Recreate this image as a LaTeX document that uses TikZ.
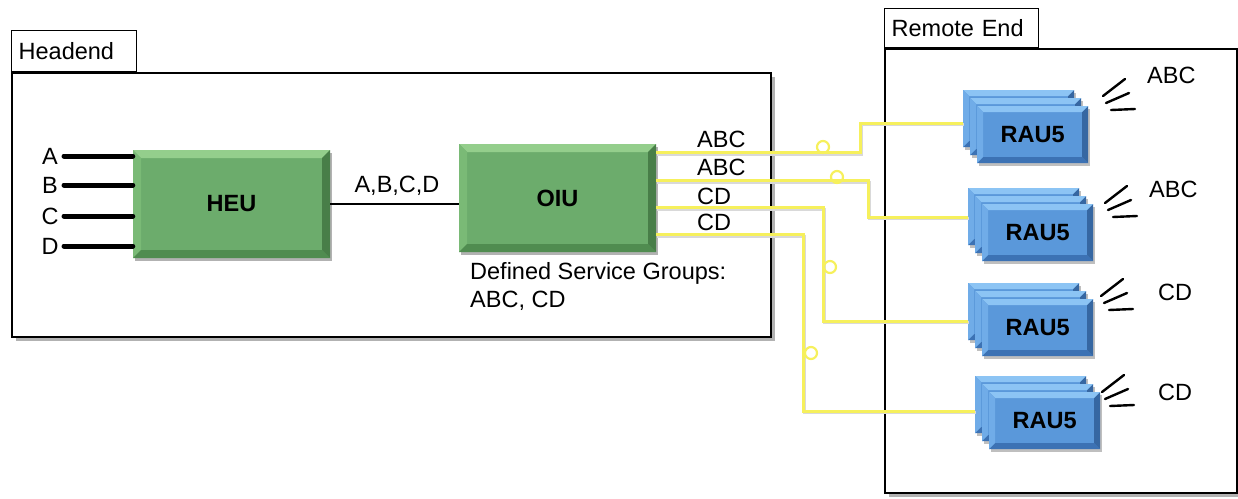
\documentclass[tikz,border=0pt]{standalone}
\usepackage{fontspec}
\setmainfont{Liberation Sans}
\usetikzlibrary{shadows,calc}

\definecolor{grnbase}{RGB}{108,172,108}
\definecolor{grnlight}{RGB}{148,206,140}
\definecolor{grnside}{RGB}{122,186,118}
\definecolor{grndark}{RGB}{80,140,80}
\definecolor{blubase}{RGB}{90,152,218}
\definecolor{blulight}{RGB}{140,196,244}
\definecolor{bluside}{RGB}{112,172,232}
\definecolor{bludark}{RGB}{60,114,180}
\definecolor{fiber}{RGB}{246,240,92}

\newcommand\bodysize{\fontsize{23.5}{28}\selectfont}

\tikzset{
  % bevelled block: #1 face, #2 top edge, #3 left edge, #4 bottom/right edges, #5 bevel size
  bevel/.style n args={5}{fill=#1, path picture={
    \fill[#2] (path picture bounding box.north west) -- (path picture bounding box.north east)
      -- ([shift={(-#5,-#5)}]path picture bounding box.north east)
      -- ([shift={(#5,-#5)}]path picture bounding box.north west) -- cycle;
    \fill[#3] (path picture bounding box.north west) -- ([shift={(#5,-#5)}]path picture bounding box.north west)
      -- ([shift={(#5,#5)}]path picture bounding box.south west) -- (path picture bounding box.south west) -- cycle;
    \fill[#4] (path picture bounding box.south west) -- (path picture bounding box.south east)
      -- ([shift={(-#5,#5)}]path picture bounding box.south east)
      -- ([shift={(#5,#5)}]path picture bounding box.south west) -- cycle;
    \fill[#4!90!black] (path picture bounding box.north east) -- (path picture bounding box.south east)
      -- ([shift={(-#5,#5)}]path picture bounding box.south east)
      -- ([shift={(-#5,-#5)}]path picture bounding box.north east) -- cycle;
  }},
  unit/.style={bevel={grnbase}{grnlight}{grnside}{grndark}{8pt}, minimum width=197pt, minimum height=108pt,
    inner sep=0pt, font=\bodysize\bfseries, drop shadow={shadow xshift=2pt, shadow yshift=-3pt, opacity=0.3, fill=black}},
  card/.style={bevel={blubase}{blulight}{bluside}{bludark}{6pt}, minimum width=111pt, minimum height=57pt,
    inner sep=0pt, anchor=north west, font=\bodysize\bfseries, drop shadow={shadow xshift=2pt, shadow yshift=-3pt, opacity=0.25, fill=black}},
  area/.style={draw, fill=white, line width=2pt, anchor=north west, inner sep=0pt,
    drop shadow={shadow xshift=4pt, shadow yshift=-4pt, opacity=0.3, fill=black}},
  tab/.style={draw, line width=1.4pt, fill=white, anchor=south west, inner xsep=7pt, align=left},
  lbl/.style={inner sep=0pt},
  inbus/.style={line width=5pt, line cap=round},
  fiberline/.style={draw=fiber, line width=3pt,
    preaction={draw=black!15, line width=3pt, transform canvas={xshift=1.2pt, yshift=-1.5pt}}},
  loop/.style={draw=fiber, line width=2.2pt},
  wave/.style={line width=2.4pt, line cap=round},
  pics/waves/.style={code={
    \draw[wave] (0,0) -- (22,-17);
    \draw[wave] (3,7) -- (26,-3);
    \draw[wave] (8,14) -- (32,13);
  }},
}

\begin{document}
\begin{tikzpicture}[x=1pt, y=-1pt, font=\bodysize]
\useasboundingbox (0,0) rectangle (1238,498);

% enclosures
\node[area, minimum width=759pt, minimum height=264pt] (headend) at (11,72) {};
\node[tab, text width=111pt, minimum height=41pt] (headtab) at (11,72) {Headend};
\node[area, minimum width=352pt, minimum height=444pt] (remote) at (884,48) {};
\node[tab, text width=140pt, minimum height=39pt] (remtab) at (884,48) {Remote End};

% head-end units
\node[unit] (heu) at (231.5,204) {HEU};
\node[unit] (oiu) at (557.5,198) {OIU};

% service inputs
\foreach \s/\y in {A/156,B/185,C/216,D/246}{
  \node[lbl, anchor=center] (in\s) at (50,\y) {\s};
  \coordinate (pin\s) at (64,\y);
  \draw[inbus] (pin\s) -- (pin\s -| heu.west);
}

% HEU to OIU link
\draw[line width=1.6pt] (heu.east |- 0,204) coordinate (hl) -- (hl -| oiu.west);
\node[lbl] (abcd) at (397,186) {A,B,C,D};

\node[lbl, anchor=west, align=left] (groups) at (470,286) {Defined Service Groups:\\ABC, CD};

% OIU output ports
\coordinate (p1) at ($(oiu.north east)+(0,9)$);
\coordinate (p2) at ($(oiu.north east)+(0,37)$);
\coordinate (p3) at ($(oiu.north east)+(0,64)$);
\coordinate (p4) at ($(oiu.north east)+(0,91)$);
\node[lbl, anchor=west] (g1) at (697,139) {ABC};
\node[lbl, anchor=west] (g2) at (697,167) {ABC};
\node[lbl, anchor=west] (g3) at (697,196) {CD};
\node[lbl, anchor=west] (g4) at (697,222) {CD};

% remote antenna units (three stacked cards each)
\foreach \n/\fx/\fy in {1/977/106, 2/982/204, 3/982/299, 4/989/392}{
  \node[card] (r\n b) at (\fx-14,\fy-16) {};
  \node[card] (r\n m) at (\fx-7,\fy-8) {};
  \node[card] (r\n) at (\fx,\fy) {RAU5};
}

% fibre runs
\coordinate (j1) at (860,123);
\coordinate (j2) at (868,217);
\coordinate (j3) at (823,321);
\coordinate (j4) at (803,411);
\path[fiberline] (p1) -| (j1) -- (j1 -| r1b.west);
\path[fiberline] (p2) -| (j2) -- (j2 -| r2b.west);
\path[fiberline] (p3) -| (j3) -- (j3 -| r3b.west);
\path[fiberline] (p4) -| (j4) -- (j4 -| r4b.west);

% slack loops
\draw[loop] (823,147) circle (6);
\draw[loop] (837,177) circle (6);
\draw[loop] (830,267) circle (6);
\draw[loop] (811,353) circle (6);

% radiating signals
\pic at (1103,96) {waves};
\pic at (1105,203) {waves};
\pic at (1101,296) {waves};
\pic at (1102,392) {waves};
\node[lbl, anchor=west] (s1) at (1147,75) {ABC};
\node[lbl, anchor=west] (s2) at (1149,189) {ABC};
\node[lbl, anchor=west] (s3) at (1158,292) {CD};
\node[lbl, anchor=west] (s4) at (1158,392) {CD};
\end{tikzpicture}
\end{document}
